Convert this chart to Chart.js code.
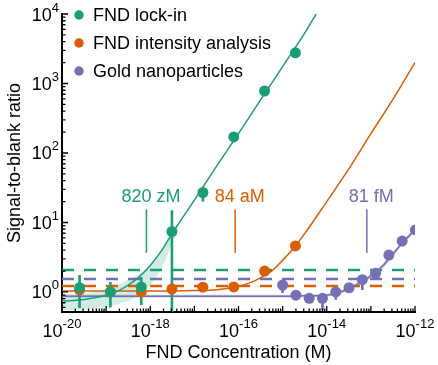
<!DOCTYPE html>
<html>
<head>
<meta charset="utf-8">
<script src="https://cdn.jsdelivr.net/npm/chart.js@4.4.1/dist/chart.umd.min.js"></script>
<style>
  html, body { margin: 0; padding: 0; background: #fff; }
</style>
</head>
<body>
<canvas id="myChart" width="438" height="365"></canvas>
<script>
// concentrations in M, ratios
const lockinConc = [2.5e-20, 1.25e-19, 6.25e-19, 3.1e-18, 1.56e-17, 7.8e-17, 3.9e-16, 1.95e-15];
const lockinRatio = [1.15, 1.0, 1.18, 7.4, 27, 170, 780, 2760];
const lockinErrLo = [0.59, 0.6, 0.65, 0.3, 20, null, null, null];
const lockinErrHi = [1.76, 1.39, 1.64, 15, 31, null, null, null];

const intensityConc = [2.5e-20, 1.25e-19, 6.25e-19, 3.1e-18, 1.56e-17, 7.8e-17, 3.9e-16, 1.95e-15];
const intensityRatio = [1.07, 1.0, 1.0, 1.1, 1.17, 1.18, 2.0, 4.6];

const goldConc = [1e-15, 2e-15, 4e-15, 8e-15, 1.6e-14, 3.2e-14, 6.4e-14, 1.28e-13, 2.56e-13, 5.12e-13, 1.024e-12];
const goldRatio = [1.26, 0.9, 0.81, 0.81, 1.0, 1.15, 1.5, 1.86, 3.4, 5.4, 7.8];
const goldErrLo = [0.97, null, null, 0.55, 0.77, null, 1.07, 1.6, null, null, 6.6];
const goldErrHi = [1.49, null, null, 0.97, 1.18, null, 1.66, 2.2, null, null, 9.2];

// fitted curves
const lockinFitX = [1e-20, 3.16e-20, 1e-19, 1.78e-19, 3.16e-19, 5.62e-19, 1e-18, 1.78e-18, 3.16e-18, 1e-17, 3.16e-17, 1e-16, 3.16e-16, 1e-15, 3.16e-15, 5.75e-15];
const lockinFitY = [0.74, 0.78, 0.9, 1.02, 1.25, 1.65, 2.4, 3.9, 7.0, 21, 64, 190, 580, 1750, 5300, 10000];
const lockinBandX = [1e-20, 3.16e-20, 1e-19, 3.16e-19, 6.3e-19, 1.26e-18, 2.5e-18, 4e-18];
const lockinBandHi = [0.9, 0.95, 1.1, 1.5, 1.9, 2.8, 5.8, 9.6];
const lockinBandLo = [0.55, 0.56, 0.62, 0.75, 0.97, 1.5, 3.5, 8.3];

const intensityFitX = [1e-20, 1e-18, 1e-17, 3.16e-17, 1e-16, 1.78e-16, 3.16e-16, 5.62e-16, 1e-15, 1.78e-15, 3.16e-15, 1e-14, 3.16e-14, 1e-13, 3.16e-13, 1e-12];
const intensityFitY = [1.03, 1.03, 1.05, 1.08, 1.2, 1.35, 1.6, 2.0, 2.85, 4.3, 6.9, 20, 59, 190, 590, 2000];

const goldFitX = [1e-20, 1e-15, 3.16e-15, 1e-14, 1.78e-14, 3.16e-14, 5.62e-14, 1e-13, 1.78e-13, 3.16e-13, 5.62e-13, 1e-12];
const goldFitY = [0.87, 0.87, 0.88, 0.9, 0.97, 1.12, 1.35, 1.7, 2.3, 3.5, 5.4, 7.8];
const goldBandHi = [0.91, 0.91, 0.92, 0.94, 1.02, 1.18, 1.43, 1.82, 2.48, 3.75, 5.75, 8.3];
const goldBandLo = [0.83, 0.83, 0.84, 0.86, 0.92, 1.06, 1.27, 1.58, 2.12, 3.25, 5.05, 7.3];

// blank thresholds (dashed)
const lockinBlank = 2.07;
const goldBlank = 1.54;
const intensityBlank = 1.22;

// limits of detection
const lodConc = [8.2e-19, 8.4e-17, 8.1e-14];
const lodLabels = ["820 zM", "84 aM", "81 fM"];
const lodSpan = [3.65, 15.5];
const lodLabelLevel = 23;

const xDecadeLabels = [-20, -18, -16, -14, -12];
const yDecadeLabels = [0, 1, 2, 3, 4];

const GREEN = "#1b9e77";
const ORANGE = "#d95f02";
const PURPLE = "#7570b3";
const FONT = "'Liberation Sans', Arial, sans-serif";
const X_MIN = 1e-20, X_MAX = 1e-12;

const toPoints = (xs, ys) => xs.map((x, i) => ({ x, y: ys[i] }));

function errorSegments(xs, lo, hi) {
  const pts = [];
  xs.forEach((x, i) => {
    if (lo[i] == null) return;
    pts.push({ x, y: lo[i] }, { x, y: hi[i] }, { x, y: null });
  });
  return pts;
}

function hLine(level) {
  return [{ x: X_MIN, y: level }, { x: X_MAX, y: level }];
}

const lineDefaults = { showLine: true, pointRadius: 0, fill: false };

const datasets = [
  { label: "FND lock-in", data: toPoints(lockinConc, lockinRatio), backgroundColor: GREEN, pointRadius: 5.5, borderWidth: 0 },
  { label: "FND intensity analysis", data: toPoints(intensityConc, intensityRatio), backgroundColor: ORANGE, pointRadius: 5.5, borderWidth: 0 },
  { label: "Gold nanoparticles", data: toPoints(goldConc, goldRatio), backgroundColor: PURPLE, pointRadius: 5.5, borderWidth: 0 },

  { ...lineDefaults, data: errorSegments(lockinConc, lockinErrLo, lockinErrHi), borderColor: GREEN, borderWidth: 2.6 },
  { ...lineDefaults, data: errorSegments(goldConc, goldErrLo, goldErrHi), borderColor: PURPLE, borderWidth: 2.6 },

  { ...lineDefaults, data: toPoints(lockinFitX, lockinFitY), borderColor: GREEN, borderWidth: 1.5, cubicInterpolationMode: "monotone" },
  { ...lineDefaults, data: toPoints(intensityFitX, intensityFitY), borderColor: ORANGE, borderWidth: 1.5, cubicInterpolationMode: "monotone" },
  { ...lineDefaults, data: toPoints(goldFitX, goldFitY), borderColor: PURPLE, borderWidth: 1.5, cubicInterpolationMode: "monotone" },

  { ...lineDefaults, data: [{ x: lodConc[0], y: lodSpan[0] }, { x: lodConc[0], y: lodSpan[1] }], borderColor: GREEN, borderWidth: 1.5 },
  { ...lineDefaults, data: [{ x: lodConc[1], y: lodSpan[0] }, { x: lodConc[1], y: lodSpan[1] }], borderColor: ORANGE, borderWidth: 1.5 },
  { ...lineDefaults, data: [{ x: lodConc[2], y: lodSpan[0] }, { x: lodConc[2], y: lodSpan[1] }], borderColor: PURPLE, borderWidth: 1.5 },

  { ...lineDefaults, data: hLine(lockinBlank), borderColor: GREEN, borderWidth: 2.5, borderDash: [12, 10] },
  { ...lineDefaults, data: hLine(goldBlank), borderColor: PURPLE, borderWidth: 2.5, borderDash: [12, 10] },
  { ...lineDefaults, data: hLine(intensityBlank), borderColor: ORANGE, borderWidth: 2.5, borderDash: [12, 10] },

  { ...lineDefaults, data: toPoints(lockinBandX, lockinBandHi), borderWidth: 0, cubicInterpolationMode: "monotone" },
  { ...lineDefaults, data: toPoints(lockinBandX, lockinBandLo), borderWidth: 0, cubicInterpolationMode: "monotone", fill: "-1", backgroundColor: "rgba(27,158,119,0.2)" },
  { ...lineDefaults, data: toPoints(goldFitX, goldBandHi), borderWidth: 0, cubicInterpolationMode: "monotone" },
  { ...lineDefaults, data: toPoints(goldFitX, goldBandLo), borderWidth: 0, cubicInterpolationMode: "monotone", fill: "-1", backgroundColor: "rgba(117,112,179,0.35)" },
];

function drawPower(ctx, x, y, exp, align) {
  ctx.font = "18px " + FONT;
  const mainW = ctx.measureText("10").width;
  ctx.font = "13px " + FONT;
  const supW = ctx.measureText(exp).width;
  const start = align === "right" ? x - mainW - supW : x - (mainW + supW) / 2;
  ctx.textAlign = "left";
  ctx.textBaseline = "alphabetic";
  ctx.font = "18px " + FONT;
  ctx.fillText("10", start, y);
  ctx.font = "13px " + FONT;
  ctx.fillText(exp, start + mainW, y - 9);
}

const decorations = {
  id: "decorations",
  afterDraw(chart) {
    const { ctx, chartArea, scales } = chart;
    const xs = scales.x, ys = scales.y;
    ctx.save();
    ctx.strokeStyle = "#000";
    ctx.fillStyle = "#000";
    ctx.lineWidth = 1.3;

    // log ticks, pointing inwards
    ctx.beginPath();
    for (let e = -20; e <= -12; e++) {
      for (let m = 1; m <= 9; m++) {
        const v = m * Math.pow(10, e);
        if (v > X_MAX * 1.0001) break;
        const px = xs.getPixelForValue(v);
        const len = m === 1 ? 6 : 3.5;
        ctx.moveTo(px, chartArea.bottom);
        ctx.lineTo(px, chartArea.bottom - len);
      }
    }
    for (let e = -1; e <= 4; e++) {
      for (let m = 1; m <= 9; m++) {
        const v = m * Math.pow(10, e);
        if (v < ys.min || v > ys.max * 1.0001) continue;
        const py = ys.getPixelForValue(v);
        const len = m === 1 ? 6 : 3.5;
        ctx.moveTo(chartArea.left, py);
        ctx.lineTo(chartArea.left + len, py);
      }
    }
    ctx.stroke();

    // tick labels
    xDecadeLabels.forEach((e) => {
      drawPower(ctx, xs.getPixelForValue(Math.pow(10, e)), chartArea.bottom + 25, String(e), "center");
    });
    yDecadeLabels.forEach((e) => {
      drawPower(ctx, chartArea.left - 3, ys.getPixelForValue(Math.pow(10, e)) + 6.5, String(e), "right");
    });

    // LOD labels
    const lodColors = [GREEN, ORANGE, PURPLE];
    ctx.font = "18px " + FONT;
    ctx.textAlign = "center";
    ctx.textBaseline = "middle";
    lodConc.forEach((c, i) => {
      ctx.fillStyle = lodColors[i];
      ctx.fillText(lodLabels[i], xs.getPixelForValue(c) + 4.5, ys.getPixelForValue(lodLabelLevel));
    });

    // legend
    const lx = chartArea.left + 17;
    let ly = chartArea.top + 1;
    [0, 1, 2].forEach((i) => {
      const ds = chart.data.datasets[i];
      ctx.fillStyle = ds.backgroundColor;
      ctx.beginPath();
      ctx.arc(lx, ly, 4.7, 0, Math.PI * 2);
      ctx.fill();
      ctx.fillStyle = "#000";
      ctx.textAlign = "left";
      ctx.textBaseline = "middle";
      ctx.fillText(ds.label, lx + 14, ly + 1);
      ly += 28;
    });
    ctx.restore();
  },
};

const ctx = document.getElementById("myChart");
new Chart(ctx, {
  type: "scatter",
  data: { datasets },
  options: {
    responsive: false,
    animation: false,
    events: [],
    layout: { padding: { left: 0, top: 14, right: 23, bottom: 0 } },
    plugins: { legend: { display: false }, tooltip: { enabled: false } },
    scales: {
      x: {
        type: "logarithmic",
        min: X_MIN,
        max: X_MAX,
        grid: { display: false, drawTicks: false },
        ticks: { display: false },
        border: { display: true, color: "#000", width: 2 },
        title: {
          display: true,
          text: "FND Concentration (M)",
          color: "#000",
          font: { family: FONT, size: 18 },
          padding: { top: 30, bottom: 1.4 },
        },
      },
      y: {
        type: "logarithmic",
        min: 0.515,
        max: 1e4,
        grid: { display: false, drawTicks: false },
        ticks: { display: false },
        border: { display: true, color: "#000", width: 2 },
        title: {
          display: true,
          text: "Signal-to-blank ratio",
          color: "#000",
          font: { family: FONT, size: 18 },
          padding: { top: 4, bottom: 36.4 },
        },
      },
    },
  },
  plugins: [decorations],
});
</script>
</body>
</html>
